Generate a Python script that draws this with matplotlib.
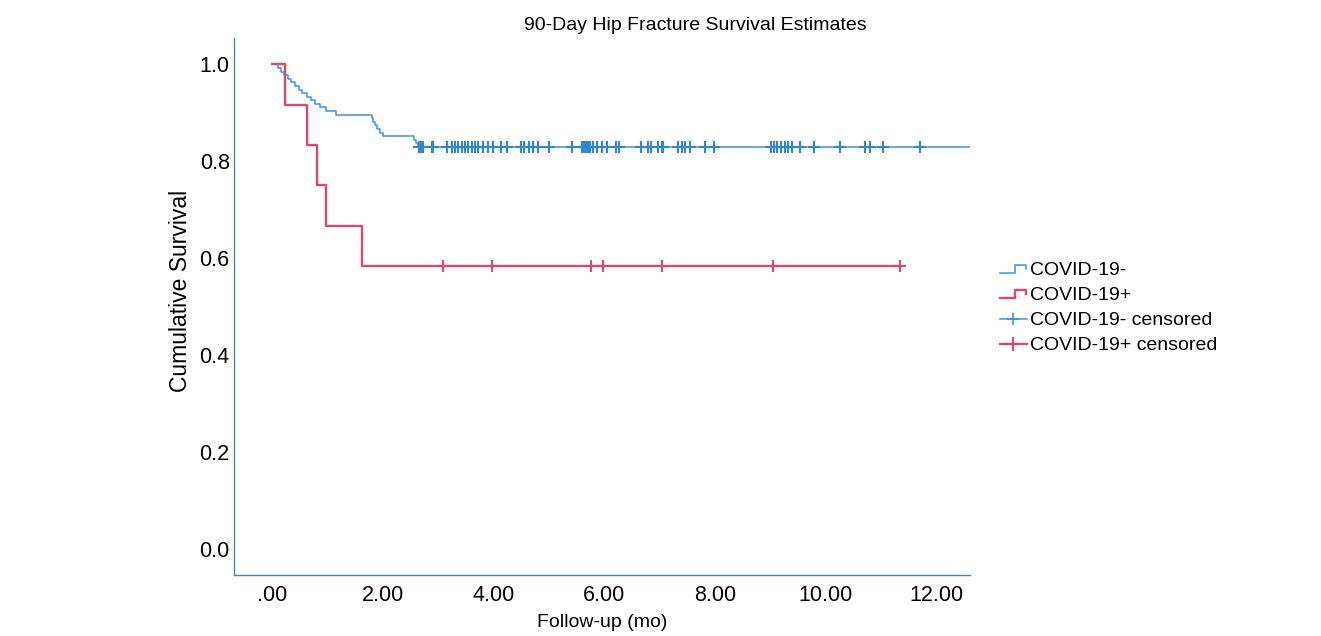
import numpy as np
import matplotlib
matplotlib.use("Agg")
import matplotlib.pyplot as plt
from matplotlib.lines import Line2D
from matplotlib.legend_handler import HandlerBase

plt.rcParams['font.family'] = ['Liberation Sans', 'DejaVu Sans']

# event times (months) and survival after each event
neg_times = [0.108, 0.162, 0.217, 0.289, 0.343, 0.415, 0.487, 0.542, 0.632, 0.704,
             0.776, 0.866, 0.975, 1.155, 1.80, 1.83, 1.86, 1.90, 1.95, 2.01,
             2.56, 2.60, 2.64]
neg_surv = [0.993, 0.985, 0.978, 0.970, 0.963, 0.956, 0.948, 0.941, 0.933, 0.926,
            0.919, 0.911, 0.904, 0.896, 0.889, 0.881, 0.874, 0.867, 0.859, 0.852,
            0.844, 0.837, 0.830]
neg_end = 12.6

pos_times = [0.24, 0.64, 0.81, 0.975, 1.63]
pos_surv = [0.917, 0.833, 0.750, 0.667, 0.583]
pos_end = 11.34

neg_censored = [2.653, 2.690, 2.726, 2.888, 2.906, 3.159, 3.249, 3.303, 3.357, 3.430,
                3.484, 3.538, 3.610, 3.664, 3.718, 3.809, 3.899, 3.989, 4.134, 4.242,
                4.495, 4.549, 4.639, 4.711, 4.801, 5.000, 5.415, 5.596, 5.632, 5.668,
                5.704, 5.740, 5.794, 5.866, 5.957, 6.047, 6.209, 6.264, 6.661, 6.787,
                6.841, 6.968, 7.040, 7.058, 7.329, 7.401, 7.455, 7.545, 7.816, 7.978,
                9.007, 9.061, 9.116, 9.188, 9.260, 9.314, 9.386, 9.531, 9.783, 10.253,
                10.704, 10.794, 11.029, 11.697]
pos_censored = [3.09, 3.97, 5.76, 5.97, 7.04, 9.04, 11.34]

blue = '#3d93dc'
red = '#d84a6c'


def step_arrays(times, surv, end):
    x = np.concatenate([[0.0], times, [end]])
    y = np.concatenate([[1.0], surv, [surv[-1]]])
    return x, y


def level_at(times, surv, t):
    x, y = step_arrays(times, surv, max(t) + 1)
    idx = np.searchsorted(x, t, side='right') - 1
    return y[idx]


class StepHandler(HandlerBase):
    def create_artists(self, legend, orig_handle, xdescent, ydescent,
                       width, height, fontsize, trans):
        x0, x1 = -xdescent, -xdescent + width
        xm = x0 + width * 0.55
        ylo, yhi = -ydescent + height * 0.15, -ydescent + height * 0.75
        line = Line2D([x0, xm, xm, x1 - width * 0.05, x1 - width * 0.05],
                      [ylo, ylo, yhi, yhi, yhi - height * 0.3],
                      color=orig_handle.get_color(), lw=orig_handle.get_linewidth(),
                      transform=trans)
        return [line]


fig = plt.figure(figsize=(13.21, 6.36), dpi=100)
ax = fig.add_axes([0.177, 0.096, 0.557, 0.844])

x, y = step_arrays(neg_times, neg_surv, neg_end)
l_neg, = ax.step(x, y, where='post', color=blue, lw=1.1)
x, y = step_arrays(pos_times, pos_surv, pos_end)
l_pos, = ax.step(x, y, where='post', color=red, lw=1.7)

ax.plot(neg_censored, level_at(neg_times, neg_surv, np.array(neg_censored)),
        ls='none', marker='+', ms=9, mew=1.5, color='#2f86d2')
ax.plot(pos_censored, level_at(pos_times, pos_surv, np.array(pos_censored)),
        ls='none', marker='+', ms=9, mew=1.5, color=red)

ax.set_xlim(-0.69, 12.6)
ax.set_ylim(-0.054, 1.054)
ax.set_xticks([0, 2, 4, 6, 8, 10, 12])
ax.set_xticklabels(['.00', '2.00', '4.00', '6.00', '8.00', '10.00', '12.00'])
ax.set_yticks([0.0, 0.2, 0.4, 0.6, 0.8, 1.0])
ax.set_yticklabels(['0.0', '0.2', '0.4', '0.6', '0.8', '1.0'])
ax.tick_params(length=0, labelsize=15.5)
ax.tick_params(axis='y', pad=3)
ax.tick_params(axis='x', pad=7)

for side in ['top', 'right']:
    ax.spines[side].set_visible(False)
for side in ['left', 'bottom']:
    ax.spines[side].set_color('#4f86a8')
    ax.spines[side].set_linewidth(1.0)

ax.set_xlabel('Follow-up (mo)', fontsize=14, labelpad=6)
ax.set_ylabel('Cumulative Survival', fontsize=16.5)
ax.yaxis.set_label_coords(-0.057, 0.53)

fig.text(695 / 1321, 1 - 25 / 636, '90-Day Hip Fracture Survival Estimates',
         fontsize=14, ha='center', va='center')

h_neg = Line2D([], [], color=blue, lw=1.1)
h_pos = Line2D([], [], color=red, lw=1.7)
h_negc = Line2D([], [], color=blue, lw=1.1, marker='+', ms=9, mew=1.2)
h_posc = Line2D([], [], color=red, lw=1.7, marker='+', ms=10, mew=1.5)
fig.legend([h_neg, h_pos, h_negc, h_posc],
           ['COVID-19-', 'COVID-19+', 'COVID-19- censored', 'COVID-19+ censored'],
           loc='upper left', bbox_to_anchor=(992 / 1321, 1 - 254 / 636),
           frameon=False, fontsize=14, handlelength=1.4, handletextpad=0.15,
           labelspacing=0.38, borderaxespad=0, numpoints=1,
           handler_map={h_neg: StepHandler(), h_pos: StepHandler()})

fig.savefig('out.png', dpi=100)
